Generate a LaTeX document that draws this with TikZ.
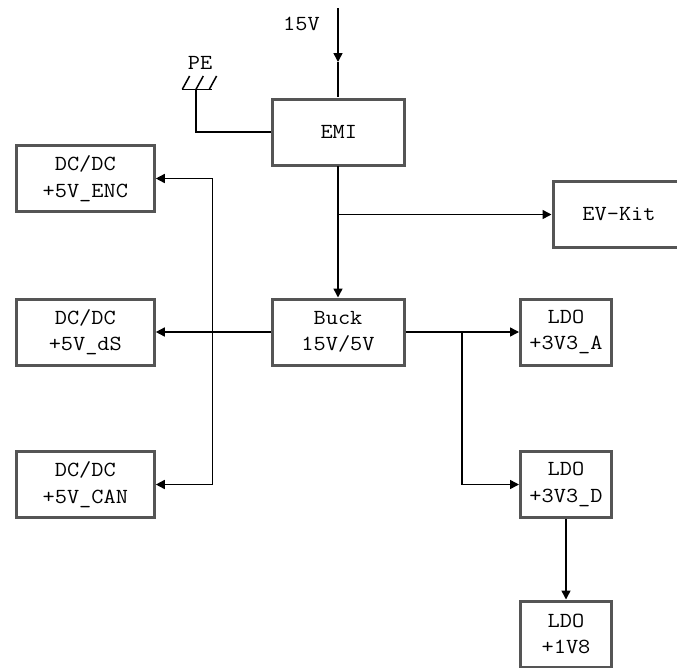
\documentclass[tikz,border=0pt]{standalone}
\usepackage{fontspec}
\newfontfamily\courfont[FakeStretch=1.1]{Latin Modern Mono}
\usetikzlibrary{arrows.meta}
\definecolor{boxgray}{HTML}{555555}
\begin{document}
\begin{tikzpicture}[x=1pt,y=-1pt,
  blk/.style={draw=boxgray, line width=3pt, minimum height=66pt, inner sep=0pt,
    align=center, fill=white, font=\courfont\fontsize{21.5}{26.5}\selectfont},
  wideblk/.style={blk, minimum width=132pt},
  dcblk/.style={blk, minimum width=138pt},
  ldoblk/.style={blk, minimum width=91pt},
  wire/.style={line width=1.5pt},
  conn/.style={wire, -{Triangle[length=9pt,width=9pt]}},
  lbl/.style={inner sep=0pt, font=\courfont\fontsize{21.5}{26.5}\selectfont}]
\clip (0,0) rectangle (677,667);
\fill[white] (0,0) rectangle (677,667);

% blocks
\node[wideblk] (emi)  at (338.8,132)   {EMI};
\node[wideblk] (buck) at (338,332)     {Buck\\15V/5V};
\node[wideblk] (ev)   at (619,214.5)   {EV-Kit};
\node[dcblk]   (enc)  at (85.3,178.5)  {DC/DC\\+5V\_ENC};
\node[dcblk]   (ds)   at (85.3,332)    {DC/DC\\+5V\_dS};
\node[dcblk]   (can)  at (85.3,484.5)  {DC/DC\\+5V\_CAN};
\node[ldoblk]  (ldoa) at (566,332)     {LDO\\+3V3\_A};
\node[ldoblk]  (ldod) at (566,484.5)   {LDO\\+3V3\_D};
\node[ldoblk]  (ldob) at (566,634)     {LDO\\+1V8};

% labels
\node[lbl] (vin) at (301.5,24) {15V};
\node[lbl] (pe)  at (200,63)   {PE};

% input
\coordinate (top) at (338,8);
\coordinate (inarr) at (338,62);
\draw[conn] (top) -- (inarr);
\draw[wire] (inarr) -- (338,97);

% PE earth symbol
\coordinate (gnd) at (196,89.3);
\draw[wire] (gnd) |- (emi.west);
\draw[wire] (182.3,89.3) -- (211.7,89.3);
\draw[wire] (182.3,89.3) -- (189.6,76);
\draw[wire] (196,89.3) -- (203.3,76);
\draw[wire] (209.3,89.3) -- (216.6,76);

% EMI to buck and EV-Kit
\coordinate (j1) at (338,214.5);
\draw[conn] (338,166) -- (buck.north);
\draw[conn] (j1) -- (ev.west);

% buck outputs left
\coordinate (j2) at (212.3,332);
\draw[conn] (buck.west) -- (ds.east);
\draw[conn] (j2) |- (enc.east);
\draw[conn] (j2) |- (can.east);

% buck outputs right
\coordinate (j3) at (462,332);
\draw[conn] (buck.east) -- (ldoa.west);
\draw[conn] (j3) |- (ldod.west);
\draw[conn] (ldod.south) -- (ldob.north);
\end{tikzpicture}
\end{document}
